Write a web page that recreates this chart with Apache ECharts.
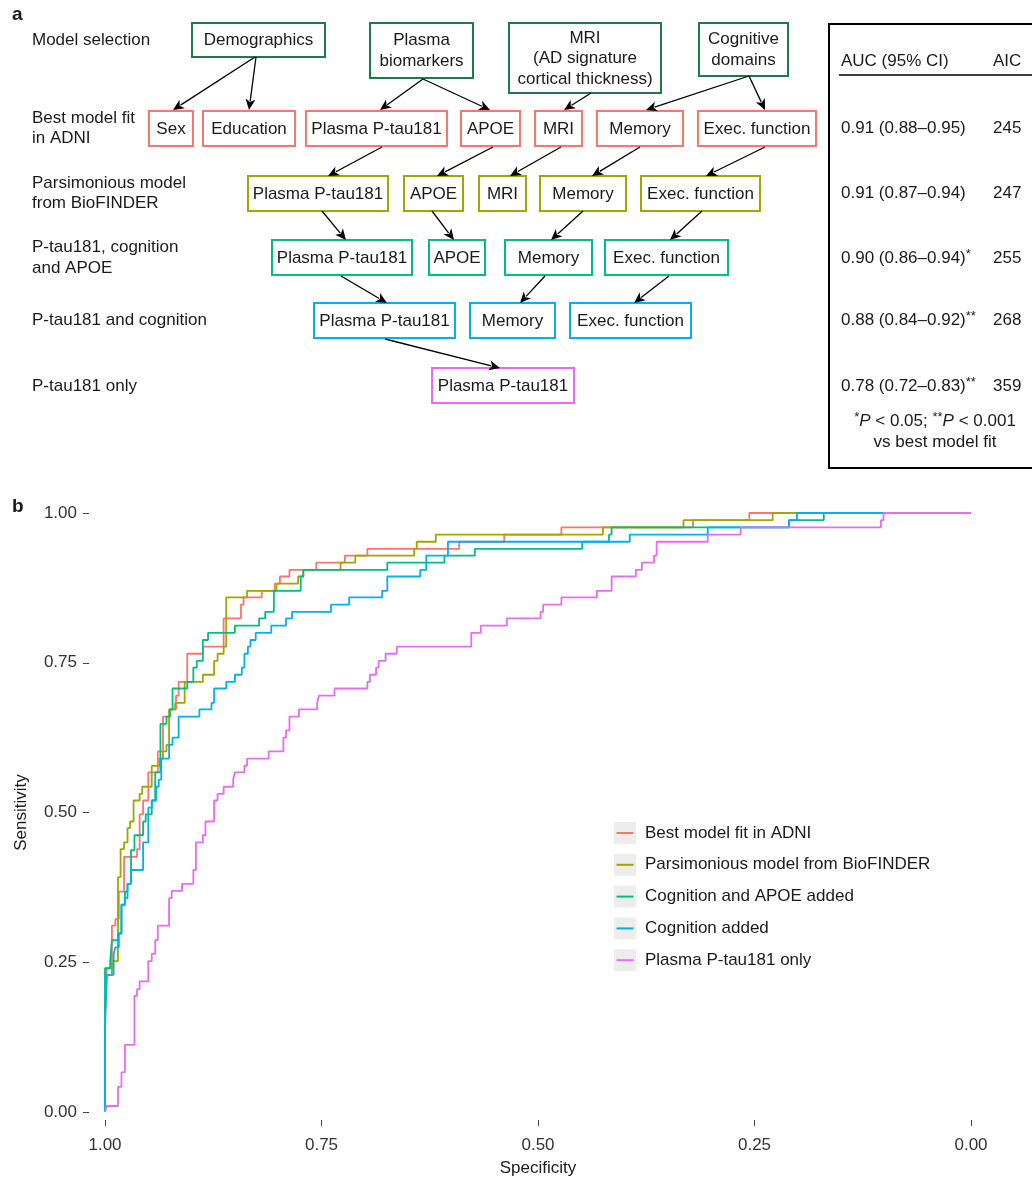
<!DOCTYPE html>
<html>
<head>
<meta charset="utf-8">
<script src="https://cdn.jsdelivr.net/npm/echarts@6/dist/echarts.min.js"></script>
<style>
html,body{margin:0;padding:0;background:#ffffff;}
#chart{width:1032px;height:1182px;}
</style>
</head>
<body>
<div id="chart"></div>
<script>
// ---------------- DATA ----------------
const seriesNames = [
  'Best model fit in ADNI',
  'Parsimonious model from BioFINDER',
  'Cognition and APOE added',
  'Cognition added',
  'Plasma P-tau181 only'
];
const seriesColors = ['#F8766D', '#A3A500', '#00BF7D', '#00B0F6', '#E76BF3'];

// ROC steps: [specificity, sensitivity after the jump]
const bestFitRoc = [[1,0],[1,0.170],[0.998,0.240],[0.992,0.311],[0.988,0.322],[0.984,0.368],[0.978,0.426],[0.963,0.439],[0.960,0.497],[0.956,0.520],[0.950,0.567],[0.939,0.602],[0.933,0.660],[0.925,0.672],[0.918,0.695],[0.915,0.718],[0.905,0.765],[0.887,0.777],[0.863,0.824],[0.843,0.847],[0.840,0.859],[0.819,0.870],[0.804,0.882],[0.798,0.894],[0.787,0.905],[0.756,0.917],[0.723,0.929],[0.697,0.940],[0.591,0.952],[0.539,0.964],[0.473,0.976],[0.321,0.988],[0.256,1],[0,1]];
const parsimoniousRoc = [[1,0],[1,0.159],[0.998,0.229],[0.992,0.252],[0.985,0.392],[0.982,0.439],[0.978,0.450],[0.974,0.474],[0.971,0.485],[0.967,0.520],[0.960,0.531],[0.957,0.543],[0.946,0.578],[0.937,0.590],[0.933,0.602],[0.929,0.613],[0.926,0.672],[0.919,0.683],[0.908,0.718],[0.887,0.730],[0.874,0.753],[0.870,0.765],[0.863,0.777],[0.860,0.859],[0.836,0.870],[0.802,0.882],[0.777,0.894],[0.771,0.905],[0.728,0.917],[0.711,0.929],[0.643,0.940],[0.640,0.952],[0.618,0.964],[0.425,0.976],[0.332,0.988],[0.229,1],[0,1]];
const cognitionApoeRoc = [[1,0],[1,0.240],[0.994,0.252],[0.992,0.287],[0.985,0.298],[0.981,0.346],[0.977,0.368],[0.974,0.381],[0.970,0.437],[0.966,0.462],[0.956,0.485],[0.953,0.497],[0.946,0.520],[0.942,0.567],[0.936,0.648],[0.929,0.660],[0.925,0.672],[0.922,0.707],[0.905,0.718],[0.898,0.742],[0.894,0.753],[0.887,0.788],[0.881,0.800],[0.850,0.812],[0.822,0.824],[0.815,0.835],[0.805,0.870],[0.774,0.894],[0.771,0.905],[0.674,0.917],[0.608,0.929],[0.573,0.940],[0.449,0.952],[0.418,0.964],[0.415,0.976],[0.210,0.988],[0.170,1],[0,1]];
const cognitionRoc = [[1,0],[1,0.137],[0.998,0.229],[0.990,0.264],[0.988,0.275],[0.984,0.298],[0.981,0.346],[0.977,0.357],[0.974,0.381],[0.970,0.404],[0.956,0.450],[0.950,0.508],[0.946,0.520],[0.941,0.543],[0.938,0.555],[0.935,0.590],[0.926,0.613],[0.922,0.625],[0.915,0.660],[0.891,0.672],[0.877,0.683],[0.874,0.707],[0.860,0.718],[0.850,0.730],[0.842,0.742],[0.839,0.765],[0.835,0.777],[0.832,0.788],[0.826,0.800],[0.808,0.812],[0.791,0.824],[0.784,0.835],[0.739,0.847],[0.718,0.859],[0.680,0.870],[0.674,0.894],[0.636,0.905],[0.629,0.929],[0.604,0.952],[0.394,0.964],[0.304,0.976],[0.210,0.988],[0.201,1],[0,1]];
const ptauOnlyRoc = [[1,0],[0.998,0.010],[0.985,0.042],[0.981,0.066],[0.977,0.112],[0.966,0.194],[0.963,0.205],[0.960,0.218],[0.950,0.252],[0.946,0.264],[0.942,0.287],[0.939,0.311],[0.926,0.357],[0.923,0.369],[0.911,0.381],[0.898,0.404],[0.895,0.450],[0.887,0.462],[0.884,0.485],[0.874,0.520],[0.870,0.531],[0.863,0.543],[0.852,0.555],[0.850,0.567],[0.839,0.578],[0.836,0.590],[0.811,0.602],[0.794,0.625],[0.791,0.637],[0.787,0.660],[0.776,0.672],[0.755,0.683],[0.753,0.695],[0.735,0.707],[0.697,0.718],[0.694,0.730],[0.687,0.742],[0.684,0.753],[0.676,0.765],[0.663,0.777],[0.577,0.800],[0.566,0.812],[0.536,0.824],[0.497,0.835],[0.494,0.847],[0.473,0.859],[0.432,0.870],[0.415,0.894],[0.387,0.905],[0.380,0.917],[0.366,0.929],[0.363,0.952],[0.304,0.964],[0.266,0.976],[0.104,0.988],[0.101,1],[0,1]];

// Panel a texts
const rowLabels = ['Model selection', 'Best model fit\nin ADNI', 'Parsimonious model\nfrom BioFINDER', 'P-tau181, cognition\nand APOE', 'P-tau181 and cognition', 'P-tau181 only'];
const selectionBoxes = ['Demographics', 'Plasma\nbiomarkers', 'MRI\n(AD signature\ncortical thickness)', 'Cognitive\ndomains'];
const bestFitBoxes = ['Sex', 'Education', 'Plasma P-tau181', 'APOE', 'MRI', 'Memory', 'Exec. function'];
const parsimoniousBoxes = ['Plasma P-tau181', 'APOE', 'MRI', 'Memory', 'Exec. function'];
const cognitionApoeBoxes = ['Plasma P-tau181', 'APOE', 'Memory', 'Exec. function'];
const cognitionBoxes = ['Plasma P-tau181', 'Memory', 'Exec. function'];
const ptauOnlyBoxes = ['Plasma P-tau181'];

const aucLabels = ['0.91 (0.88–0.95)', '0.91 (0.87–0.94)', '0.90 (0.86–0.94)', '0.88 (0.84–0.92)', '0.78 (0.72–0.83)'];
const aucMarks = ['', '', '*', '**', '**'];
const aicValues = [245, 247, 255, 268, 359];

// ---------------- LAYOUT ----------------
const FONT = '"Liberation Sans", Arial, Helvetica, sans-serif';
const TXT = '#1a1a1a';
const boxColors = ['#1d7a4a', '#F8766D', '#A3A500', '#00BF7D', '#00B0F6', '#E76BF3'];
const rowLabelY = [40, 128.5, 193.5, 258, 320.5, 386];
const boxRects = [
  [[192,23,133,34],[370,23,103,55],[509,23,152,70],[699,23,89,53]],
  [[149,111,44,35],[203,111,92,35],[306,111,141,35],[461,111,59,35],[535,111,47,35],[597,111,86,35],[698,111,118,35]],
  [[248,176,140,35],[404,176,59,35],[479,176,47,35],[540,176,86,35],[641,176,119,35]],
  [[272,240,140,35],[429,240,56,35],[505,240,87,35],[605,240,123,35]],
  [[314,303,141,35],[470,303,85,35],[570,303,121,35]],
  [[432,368,142,35]]
];
const boxTexts = [selectionBoxes, bestFitBoxes, parsimoniousBoxes, cognitionApoeBoxes, cognitionBoxes, ptauOnlyBoxes];
const arrowLinks = [
  [255,57,173,110],[256,57,249,110],[423,79,380,110],[423,79,490,110],[591,93,564,110],[749,76,646,110],[749,76,765,110],
  [382,147,328,176],[493,147,437,176],[561,147,510,176],[640,147,592,176],[765,147,706,176],
  [322,211,346,240],[432,211,454,240],[583,211,551,240],[702,211,670,240],
  [341,276,387,303],[545,276,520,303],[669,276,634,303],
  [385,339,500,368]
];

const graphics = [];
const richBase = {fontSize:17, fontFamily:FONT, fill:TXT};
const richStyles = {
  n: richBase,
  i: Object.assign({}, richBase, {fontStyle:'italic'}),
  s: Object.assign({}, richBase, {fontSize:13, verticalAlign:'top', padding:[0,0,4,0]})
};
function txt(x, y, text, extra) {
  graphics.push({type:'text', x:x, y:y, silent:true, z:10,
    style:Object.assign({text:text, fill:TXT, fontSize:17, fontFamily:FONT, align:'left', verticalAlign:'middle', lineHeight:20.5}, extra || {})});
}
txt(12, 15, 'a', {fontWeight:'bold', fontSize:19});
txt(12, 507, 'b', {fontWeight:'bold', fontSize:19});
rowLabels.forEach((t, i) => txt(32, rowLabelY[i], t));
boxRects.forEach((row, r) => {
  row.forEach((rc, j) => {
    graphics.push({type:'rect', z:5, silent:true, shape:{x:rc[0], y:rc[1], width:rc[2], height:rc[3]},
      style:{fill:'#ffffff', stroke:boxColors[r], lineWidth:2}});
    txt(rc[0] + rc[2] / 2, rc[1] + rc[3] / 2 + 0.5, boxTexts[r][j], {align:'center'});
  });
});
arrowLinks.forEach(a => {
  const [x1, y1, x2, y2] = a;
  const dx = x2 - x1, dy = y2 - y1, L = Math.sqrt(dx*dx + dy*dy);
  const ux = dx / L, uy = dy / L, hl = 11, hw = 5;
  const bx = x2 - ux * hl, by = y2 - uy * hl;
  graphics.push({type:'line', z:6, silent:true, shape:{x1:x1, y1:y1, x2:bx + ux*2, y2:by + uy*2}, style:{stroke:'#000', lineWidth:1.3}});
  graphics.push({type:'polygon', z:6, silent:true, shape:{points:[[x2, y2],[bx - uy*hw, by + ux*hw],[bx + ux*3, by + uy*3],[bx + uy*hw, by - ux*hw]]}, style:{fill:'#000'}});
});
graphics.push({type:'rect', z:5, silent:true, shape:{x:829, y:24, width:230, height:444}, style:{fill:'none', stroke:'#000', lineWidth:2}});
txt(841, 61, 'AUC (95% CI)');
txt(993, 61, 'AIC');
graphics.push({type:'line', z:6, silent:true, shape:{x1:839, y1:75, x2:1040, y2:75}, style:{stroke:'#000', lineWidth:1.5}});
aucLabels.forEach((t, i) => {
  const mark = aucMarks[i] ? '{s|' + aucMarks[i] + '}' : '';
  txt(841, rowLabelY[i + 1], '{n|' + t + '}' + mark, {rich:richStyles});
  txt(993, rowLabelY[i + 1], String(aicValues[i]));
});
txt(935, 421, '{s|*}{i|P}{n| < 0.05; }{s|**}{i|P}{n| < 0.001}', {align:'center', rich:richStyles});
txt(935, 442, 'vs best model fit', {align:'center'});

// ---------------- CHART ----------------
const rocData = [bestFitRoc, parsimoniousRoc, cognitionApoeRoc, cognitionRoc, ptauOnlyRoc];
const chart = echarts.init(document.getElementById('chart'), null, {renderer:'canvas'});
const axisLabelStyle = {color:'#333333', fontSize:17, fontFamily:FONT, formatter: v => v.toFixed(2)};
chart.setOption({
  animation:false,
  backgroundColor:'#ffffff',
  grid:{left:105, right:61, top:513, bottom:70, containLabel:false},
  xAxis:{type:'value', position:'bottom', min:0, max:1, interval:0.25, inverse:true, offset:8,
    axisLine:{show:false, onZero:false}, axisTick:{show:true, length:6, lineStyle:{color:'#444', width:1}},
    splitLine:{show:false}, axisLabel:Object.assign({margin:17}, axisLabelStyle),
    name:'Specificity', nameLocation:'middle', nameGap:40,
    nameTextStyle:{color:TXT, fontSize:17, fontFamily:FONT}},
  yAxis:{type:'value', position:'left', min:0, max:1, interval:0.25, offset:16,
    axisLine:{show:false, onZero:false}, axisTick:{show:true, length:6, lineStyle:{color:'#444', width:1}},
    splitLine:{show:false}, axisLabel:Object.assign({margin:12}, axisLabelStyle),
    name:'Sensitivity', nameLocation:'middle', nameGap:59,
    nameTextStyle:{color:TXT, fontSize:17, fontFamily:FONT}},
  legend:[
    {data:seriesNames, orient:'vertical', left:614, top:822, padding:0, itemWidth:22, itemHeight:22, itemGap:9.8,
     icon:'rect', selectedMode:false, itemStyle:{color:'#ededed', borderWidth:0},
     textStyle:{color:TXT, fontSize:17, fontFamily:FONT, lineHeight:22, padding:[0,0,0,4]}},
    {data:seriesNames, orient:'vertical', left:616.5, top:822, padding:0, itemWidth:17, itemHeight:2, itemGap:9.8,
     icon:'rect', selectedMode:false, itemStyle:{borderWidth:0},
     textStyle:{color:'rgba(0,0,0,0)', fontSize:17, fontFamily:FONT, lineHeight:22, padding:[0,0,0,4]}}
  ],
  series: rocData.map((d, i) => ({
    name:seriesNames[i], type:'line', step:'end', data:d, showSymbol:false, symbol:'none',
    color:seriesColors[i], lineStyle:{color:seriesColors[i], width:1.8}, silent:true
  })),
  graphic:graphics
});
</script>
</body>
</html>
